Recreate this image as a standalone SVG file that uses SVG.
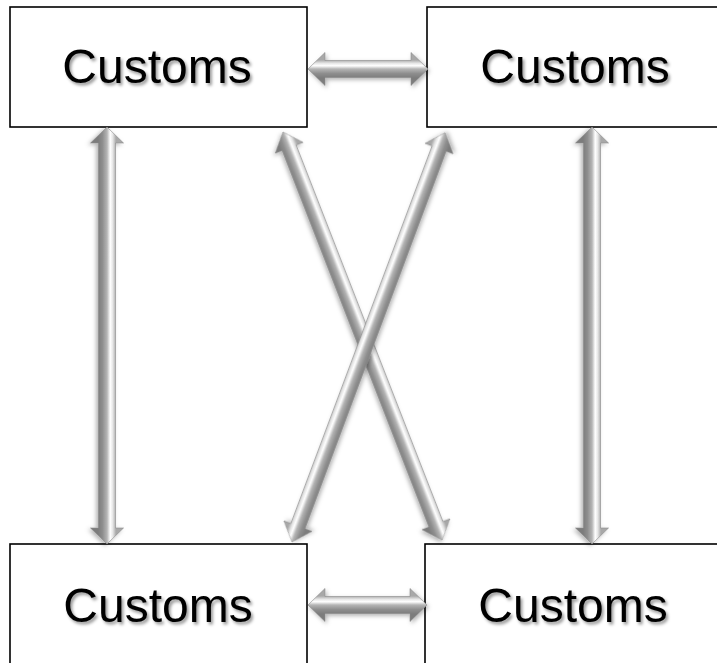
<svg xmlns="http://www.w3.org/2000/svg" width="717" height="663" viewBox="0 0 717 663">
<defs>
<style>
.box{fill:#fff;stroke:#000;stroke-width:1.6}
.lbl{font-family:"Liberation Sans",Arial,sans-serif;font-size:48px;fill:#000;text-anchor:middle;filter:url(#tsh)}
.arr{fill:url(#metal);stroke:#8a8a8a;stroke-width:0.6;filter:url(#ash)}
</style>
<linearGradient id="metal" gradientUnits="userSpaceOnUse" x1="0" y1="-9" x2="0" y2="9">
<stop offset="0" stop-color="#a8a8a8"/>
<stop offset="0.18" stop-color="#e6e6e6"/>
<stop offset="0.32" stop-color="#ffffff"/>
<stop offset="0.5" stop-color="#b4b4b4"/>
<stop offset="0.75" stop-color="#8e8e8e"/>
<stop offset="1" stop-color="#7c7c7c"/>
</linearGradient>
<filter id="tsh" x="-10%" y="-20%" width="130%" height="150%">
<feDropShadow dx="2" dy="2.5" stdDeviation="1.5" flood-color="#000" flood-opacity="0.4"/>
</filter>
<filter id="ash" x="-20%" y="-50%" width="140%" height="200%">
<feDropShadow dx="1.5" dy="2" stdDeviation="2" flood-color="#000" flood-opacity="0.3"/>
</filter>
</defs>
<g id="node-tl"><rect class="box" x="10" y="7" width="297" height="120"/><text class="lbl" x="157" y="83">Customs</text></g>
<g id="node-tr"><rect class="box" x="427" y="7" width="300" height="120"/><text class="lbl" x="575" y="83">Customs</text></g>
<g id="node-bl"><rect class="box" x="10" y="544" width="297" height="130"/><text class="lbl" x="158" y="622">Customs</text></g>
<g id="node-br"><rect class="box" x="425" y="544" width="302" height="130"/><text class="lbl" x="573" y="622">Customs</text></g>
<g id="connectors">
<path class="arr" transform="translate(308,69)" d="M0,0 L17,-16.5 L17,-8.5 L103,-8.5 L103,-16.5 L120,0 L103,16.5 L103,8.5 L17,8.5 L17,16.5 Z"/>
<path class="arr" transform="translate(308,605)" d="M0,0 L17,-16.5 L17,-8.5 L102,-8.5 L102,-16.5 L119,0 L102,16.5 L102,8.5 L17,8.5 L17,16.5 Z"/>
<path class="arr" transform="translate(107,127) rotate(90)" d="M0,0 L16,-16.5 L16,-8.5 L401,-8.5 L401,-16.5 L417,0 L401,16.5 L401,8.5 L16,8.5 L16,16.5 Z"/>
<path class="arr" transform="translate(592,127) rotate(90)" d="M0,0 L16,-16.5 L16,-8.5 L401,-8.5 L401,-16.5 L417,0 L401,16.5 L401,8.5 L16,8.5 L16,16.5 Z"/>
<path class="arr" transform="translate(283,132) rotate(68.7)" d="M0,0 L17,-15 L17,-7.5 L421,-7.5 L421,-15 L438,0 L421,15 L421,7.5 L17,7.5 L17,15 Z"/>
<path class="arr" transform="translate(292,542) rotate(-69.5)" d="M0,0 L17,-15 L17,-7.5 L420,-7.5 L420,-15 L437,0 L420,15 L420,7.5 L17,7.5 L17,15 Z"/>
</g>
</svg>
